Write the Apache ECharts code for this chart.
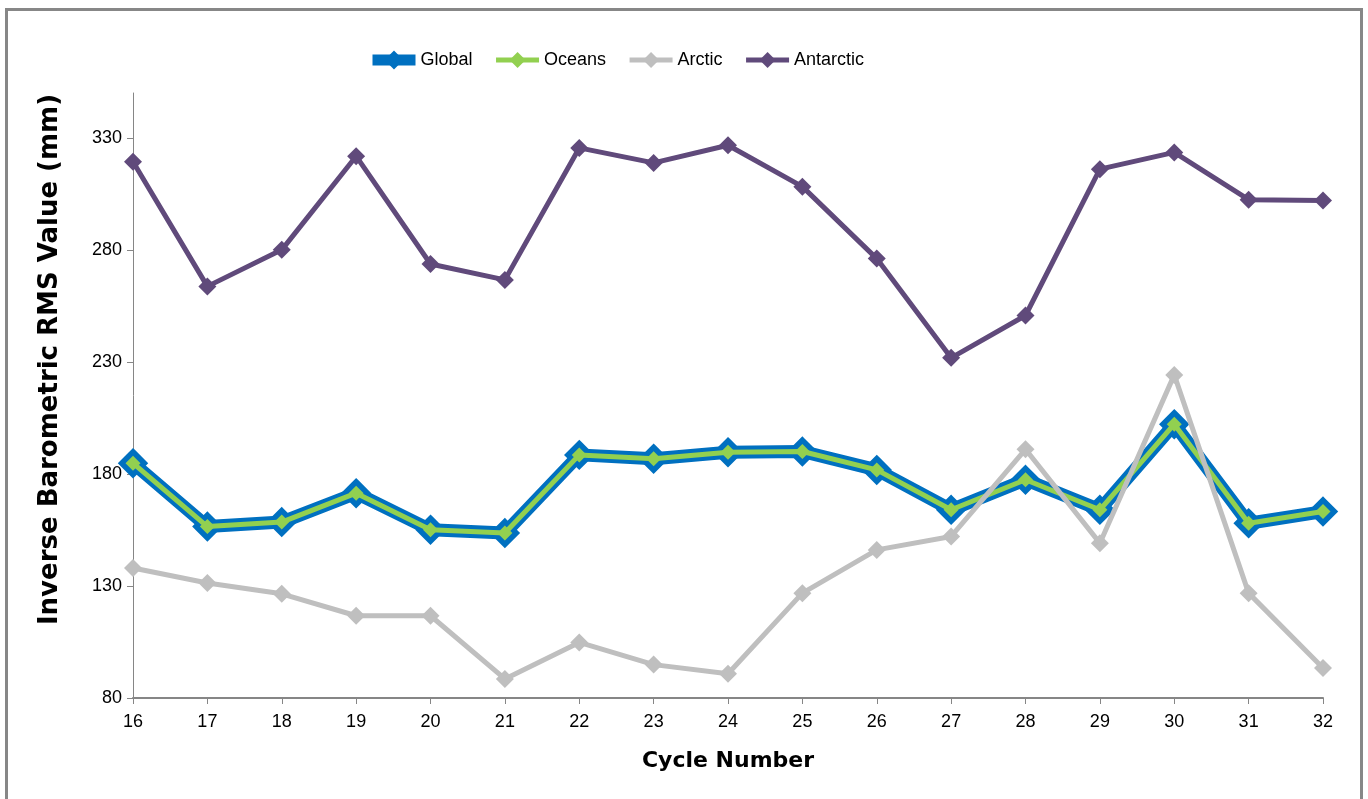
<!DOCTYPE html>
<html>
<head>
<meta charset="utf-8">
<script src="https://cdn.jsdelivr.net/npm/echarts@6/dist/echarts.min.js"></script>
<style>
  html, body { margin: 0; padding: 0; background: #fff; }
  #chart { width: 1368px; height: 799px; }
</style>
</head>
<body>
<div id="chart"></div>
<script>
// cycle numbers on the x axis
const cycles = ['16', '17', '18', '19', '20', '21', '22', '23', '24', '25', '26', '27', '28', '29', '30', '31', '32']

// RMS values (mm)
const globalVals = [184.8, 156.5, 158.5, 171.4, 155.1, 153.6, 188.5, 186.8, 189.7, 190.0, 181.8, 164.0, 177.4, 164.0, 202.2, 158.0, 163.2]
const oceansVals = [184.8, 156.5, 158.5, 171.4, 155.1, 153.6, 188.5, 186.8, 189.7, 190.0, 181.8, 164.0, 177.4, 164.0, 202.2, 158.0, 163.2]
const arcticVals = [138.0, 131.3, 126.5, 116.7, 116.7, 88.5, 104.8, 94.9, 90.8, 126.8, 146.1, 152.1, 191.0, 149.1, 224.2, 126.8, 93.4]
const antarcticVals = [319.3, 263.7, 280.0, 321.8, 273.7, 266.6, 325.5, 318.8, 326.7, 308.2, 276.1, 231.8, 250.7, 316.0, 323.5, 302.4, 302.0]

const yTicks = [80, 130, 180, 230, 280, 330]

const FONT = '"Liberation Sans", Arial, sans-serif'
const TITLE_FONT = '"DejaVu Sans", "Liberation Sans", sans-serif'
const AXIS_GREY = '#868686'

const chart = echarts.init(document.getElementById('chart'))

chart.setOption({
  animation: false,
  backgroundColor: '#fff',

  graphic: [
    {
      type: 'rect',
      shape: { x: 6.5, y: 9.5, width: 1355, height: 800 },
      style: { fill: 'none', stroke: '#878787', lineWidth: 3 },
      silent: true
    }
  ],

  legend: {
    left: 362,
    top: 46,
    itemWidth: 43,
    itemHeight: 20,
    itemGap: 21,
    textStyle: { fontFamily: FONT, fontSize: 18, color: '#000' },
    data: [
      { name: 'Global', lineStyle: { width: 11 } },
      { name: 'Oceans', lineStyle: { width: 5 } },
      { name: 'Arctic', lineStyle: { width: 5 } },
      { name: 'Antarctic', lineStyle: { width: 5 } }
    ]
  },

  grid: {
    left: 133,
    right: 45,
    top: 93,
    bottom: 101,
    containLabel: false
  },

  xAxis: {
    type: 'category',
    data: cycles,
    boundaryGap: false,
    name: 'Cycle Number',
    nameLocation: 'middle',
    nameGap: 52,
    nameTextStyle: { fontFamily: TITLE_FONT, fontSize: 22, fontWeight: 'bold', color: '#000' },
    axisLine: { lineStyle: { color: AXIS_GREY, width: 2 } },
    axisTick: { inside: false, length: 6, lineStyle: { color: AXIS_GREY } },
    axisLabel: { fontFamily: FONT, fontSize: 18, color: '#000', margin: 15 },
    splitLine: { show: false }
  },

  yAxis: {
    type: 'value',
    min: 80,
    max: 350,
    interval: 50,
    name: 'Inverse Barometric RMS Value (mm)',
    nameLocation: 'middle',
    nameGap: 70,
    nameRotate: 90,
    nameTextStyle: {
      fontFamily: TITLE_FONT, fontSize: 26, fontWeight: 'bold', color: '#000',
      padding: [0, 0, 0, 72]
    },
    axisLine: { show: true, lineStyle: { color: AXIS_GREY, width: 1 } },
    axisTick: { show: true, length: 6, customValues: yTicks, lineStyle: { color: AXIS_GREY } },
    axisLabel: { fontFamily: FONT, fontSize: 18, color: '#000', margin: 11, customValues: yTicks },
    splitLine: { show: false }
  },

  series: [
    {
      name: 'Global',
      type: 'line',
      data: globalVals,
      symbol: 'diamond',
      symbolSize: 22,
      color: '#0070C0',
      lineStyle: { width: 13, color: '#0070C0' },
      itemStyle: { color: '#0070C0', borderColor: '#0070C0', borderWidth: 6 },
      z: 2
    },
    {
      name: 'Oceans',
      type: 'line',
      data: oceansVals,
      symbol: 'diamond',
      symbolSize: 15,
      color: '#92D050',
      lineStyle: { width: 5, color: '#92D050' },
      itemStyle: { color: '#92D050' },
      z: 3
    },
    {
      name: 'Arctic',
      type: 'line',
      data: arcticVals,
      symbol: 'diamond',
      symbolSize: 18,
      color: '#BFBFBF',
      lineStyle: { width: 5, color: '#BFBFBF' },
      itemStyle: { color: '#BFBFBF' },
      z: 4
    },
    {
      name: 'Antarctic',
      type: 'line',
      data: antarcticVals,
      symbol: 'diamond',
      symbolSize: 18,
      color: '#604A7B',
      lineStyle: { width: 5, color: '#604A7B' },
      itemStyle: { color: '#604A7B' },
      z: 5
    }
  ]
})
</script>
</body>
</html>
